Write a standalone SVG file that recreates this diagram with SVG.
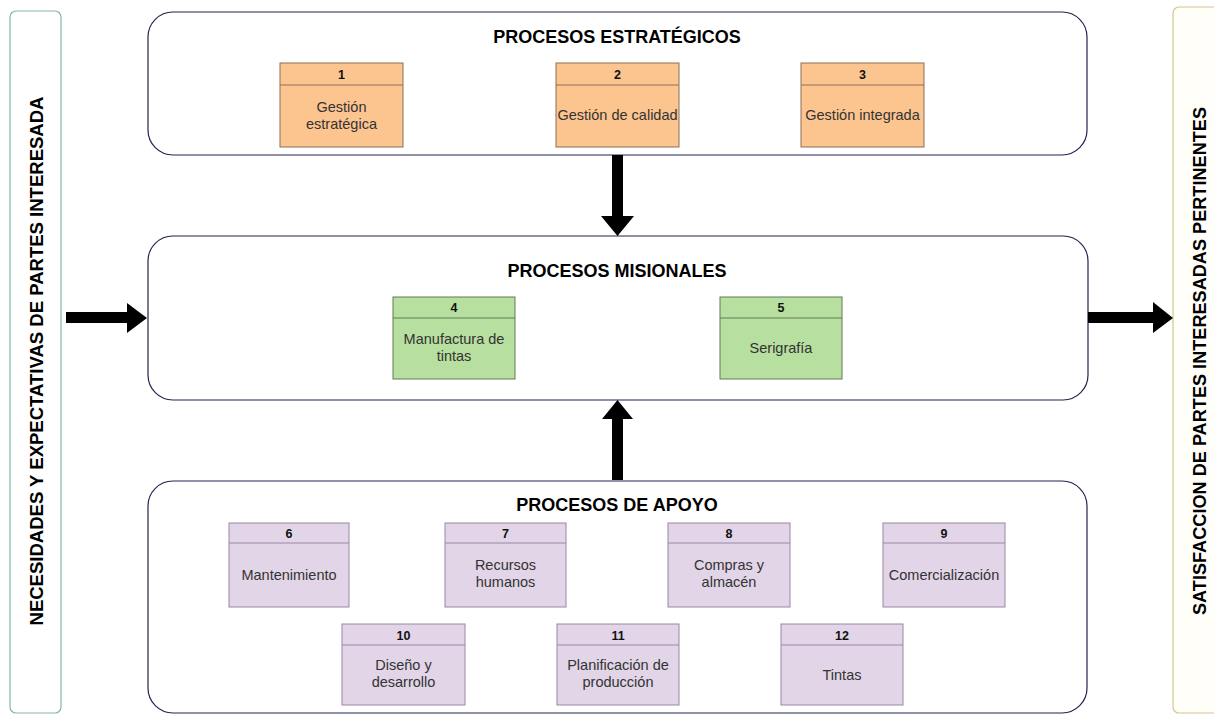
<svg xmlns="http://www.w3.org/2000/svg" width="1214" height="715" viewBox="0 0 1214 715">
  <defs>
    <style>
      .bg { fill: #ffffff; }
      .group { fill: #ffffff; stroke: #23234f; stroke-width: 1.2; }
      .side-in { fill: #ffffff; stroke: #82b8a0; stroke-width: 1.2; }
      .side-out { fill: #fffef9; stroke: #d6c58a; stroke-width: 1.2; }
      .title { font-family: "Liberation Sans", Arial, sans-serif; font-weight: bold; font-size: 18px; fill: #000; text-anchor: middle; }
      .side { font-family: "Liberation Sans", Arial, sans-serif; font-weight: bold; font-size: 18px; fill: #000; text-anchor: middle; }
      .num { font-family: "Liberation Sans", Arial, sans-serif; font-weight: bold; font-size: 12.5px; fill: #111; text-anchor: middle; }
      .lbl { font-family: "Liberation Sans", Arial, sans-serif; font-size: 14.5px; fill: #333; text-anchor: middle; }
      .orange rect, .orange line { fill: #fcc48f; stroke: #8a7055; stroke-width: 1; }
      .green rect, .green line { fill: #b7df9f; stroke: #637a55; stroke-width: 1; }
      .purple rect, .purple line { fill: #e1d5e7; stroke: #9a86a6; stroke-width: 1; }
      .arrow { fill: #000; }
    </style>
  </defs>

  <rect class="bg" x="0" y="0" width="1214" height="715"/>

  <!-- side panels -->
  <g id="entradas">
    <rect class="side-in" x="10" y="11" width="51" height="702" rx="6"/>
    <text class="side" transform="translate(43,361) rotate(-90)" textLength="529" lengthAdjust="spacingAndGlyphs">NECESIDADES Y EXPECTATIVAS DE PARTES INTERESADA</text>
  </g>
  <g id="salidas">
    <rect class="side-out" x="1173" y="7" width="60" height="706" rx="6"/>
    <text class="side" transform="translate(1206,361) rotate(-90)" textLength="508" lengthAdjust="spacingAndGlyphs">SATISFACCION DE PARTES INTERESADAS PERTINENTES</text>
  </g>

  <!-- process groups -->
  <g id="estrategicos">
    <rect class="group" x="148" y="12" width="939" height="143" rx="25"/>
    <text class="title" x="617" y="43">PROCESOS ESTRATÉGICOS</text>
  </g>
  <g id="misionales">
    <rect class="group" x="148" y="236" width="940" height="164" rx="25"/>
    <text class="title" x="617" y="277">PROCESOS MISIONALES</text>
  </g>
  <g id="apoyo">
    <rect class="group" x="148" y="481" width="939" height="232" rx="25"/>
    <text class="title" x="617" y="511">PROCESOS DE APOYO</text>
  </g>

  <!-- strategic processes -->
  <g id="p1" class="orange">
    <rect x="280" y="63" width="123" height="84"/>
    <line x1="280" y1="85" x2="403" y2="85"/>
    <text class="num" x="341.5" y="79">1</text>
    <text class="lbl" x="341.5" y="112">Gestión</text>
    <text class="lbl" x="341.5" y="129">estratégica</text>
  </g>
  <g id="p2" class="orange">
    <rect x="556" y="63" width="123" height="84"/>
    <line x1="556" y1="85" x2="679" y2="85"/>
    <text class="num" x="617.5" y="79">2</text>
    <text class="lbl" x="617.5" y="120">Gestión de calidad</text>
  </g>
  <g id="p3" class="orange">
    <rect x="801" y="63" width="123" height="84"/>
    <line x1="801" y1="85" x2="924" y2="85"/>
    <text class="num" x="862.5" y="79">3</text>
    <text class="lbl" x="862.5" y="120">Gestión integrada</text>
  </g>

  <!-- missional processes -->
  <g id="p4" class="green">
    <rect x="393" y="297" width="122" height="82"/>
    <line x1="393" y1="318" x2="515" y2="318"/>
    <text class="num" x="454" y="312">4</text>
    <text class="lbl" x="454" y="344">Manufactura de</text>
    <text class="lbl" x="454" y="361">tintas</text>
  </g>
  <g id="p5" class="green">
    <rect x="720" y="297" width="122" height="82"/>
    <line x1="720" y1="318" x2="842" y2="318"/>
    <text class="num" x="781" y="312">5</text>
    <text class="lbl" x="781" y="353">Serigrafía</text>
  </g>

  <!-- support processes -->
  <g id="p6" class="purple">
    <rect x="229" y="523" width="120" height="84"/>
    <line x1="229" y1="543" x2="349" y2="543"/>
    <text class="num" x="289" y="538">6</text>
    <text class="lbl" x="289" y="580">Mantenimiento</text>
  </g>
  <g id="p7" class="purple">
    <rect x="445" y="523" width="121" height="84"/>
    <line x1="445" y1="543" x2="566" y2="543"/>
    <text class="num" x="505.5" y="538">7</text>
    <text class="lbl" x="505.5" y="570">Recursos</text>
    <text class="lbl" x="505.5" y="587">humanos</text>
  </g>
  <g id="p8" class="purple">
    <rect x="668" y="523" width="122" height="84"/>
    <line x1="668" y1="543" x2="790" y2="543"/>
    <text class="num" x="729" y="538">8</text>
    <text class="lbl" x="729" y="570">Compras y</text>
    <text class="lbl" x="729" y="587">almacén</text>
  </g>
  <g id="p9" class="purple">
    <rect x="883" y="523" width="122" height="84"/>
    <line x1="883" y1="543" x2="1005" y2="543"/>
    <text class="num" x="944" y="538">9</text>
    <text class="lbl" x="944" y="580">Comercialización</text>
  </g>
  <g id="p10" class="purple">
    <rect x="342" y="624" width="123" height="81"/>
    <line x1="342" y1="645" x2="465" y2="645"/>
    <text class="num" x="403.5" y="640">10</text>
    <text class="lbl" x="403.5" y="670">Diseño y</text>
    <text class="lbl" x="403.5" y="687">desarrollo</text>
  </g>
  <g id="p11" class="purple">
    <rect x="557" y="624" width="122" height="81"/>
    <line x1="557" y1="645" x2="679" y2="645"/>
    <text class="num" x="618" y="640">11</text>
    <text class="lbl" x="618" y="670">Planificación de</text>
    <text class="lbl" x="618" y="687">producción</text>
  </g>
  <g id="p12" class="purple">
    <rect x="781" y="624" width="122" height="81"/>
    <line x1="781" y1="645" x2="903" y2="645"/>
    <text class="num" x="842" y="640">12</text>
    <text class="lbl" x="842" y="680">Tintas</text>
  </g>

  <!-- connectors: block arrows between panels and groups -->
  <g id="connectors">
    <polygon class="arrow" points="66,312 127,312 127,303 147,318 127,333 127,323 66,323"/>
    <polygon class="arrow" points="1088,312 1153,312 1153,302 1173,318 1153,333 1153,323 1088,323"/>
    <polygon class="arrow" points="612,155 623,155 623,216 634,216 617.5,236 601,216 612,216"/>
    <polygon class="arrow" points="612,480 623,480 623,419 633,419 617.5,400 602,419 612,419"/>
  </g>
</svg>
